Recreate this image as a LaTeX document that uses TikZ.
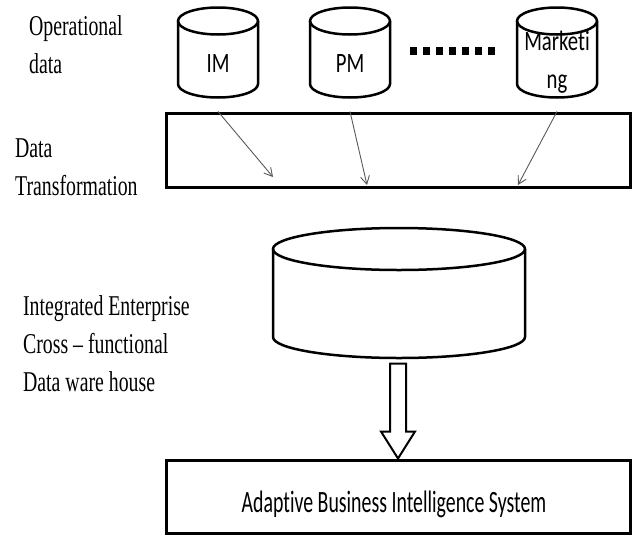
\documentclass[tikz,border=0pt]{standalone}
\usepackage{fontspec}
\setmainfont{Liberation Serif}
\newfontfamily\calfont[Ligatures=NoCommon]{Carlito}
\usetikzlibrary{arrows.meta}

\begin{document}
\begin{tikzpicture}[x=1pt,y=1pt,
    dbline/.style={line width=2.5pt},
    frame/.style={draw,line width=3pt,inner sep=0pt},
    feed/.style={-{Straight Barb[length=8pt,width=9pt]},line width=0.9pt,black!65},
    sidelabel/.style={align=left,anchor=base west,inner sep=0pt,xscale=0.69,transform shape,
        font=\fontsize{28.7}{38}\selectfont},
    dblabel/.style={align=center,anchor=base,inner sep=0pt,xscale=0.74,transform shape,
        font=\calfont\fontsize{28}{38}\selectfont}]
    \useasboundingbox (0,0) rectangle (632,-536);

    % source databases
    \foreach \cx in {218,350,557}
    {
        \draw[dbline] (\cx,-21) ellipse [x radius=40, y radius=13.5];
        \draw[dbline] (\cx-40,-21) -- (\cx-40,-84)
            arc [start angle=180, end angle=360, x radius=40, y radius=13.5] -- (\cx+40,-21);
    }
    \node[dblabel] (im) at (218,-72) {IM};
    \node[dblabel] (pm) at (350,-72) {PM};
    % base of a two-line node sits on its last line
    \node[dblabel] (mkt) at (557,-88) {Marketi\\ng};
    \foreach \i in {0,...,6}
        \fill (410+13*\i,-47) rectangle +(6.5,-8);

    % transformation layer
    \node[frame,minimum width=464,minimum height=74] (trans) at (398,-150) {};
    \coordinate (t1) at (273,-177);
    \coordinate (t2) at (367,-185);
    \coordinate (t3) at (518,-185);
    \draw[feed] (im |- trans.north) -- (t1);
    \draw[feed] (pm |- trans.north) -- (t2);
    \draw[feed] (mkt |- trans.north) -- (t3);

    % warehouse
    \draw[dbline] (399,-249) ellipse [x radius=126, y radius=21];
    \draw[dbline] (273,-249) -- (273,-337)
        arc [start angle=180, end angle=360, x radius=126, y radius=21] -- (525,-249);
    \coordinate (dwh) at (399,-358);

    % BI system
    \node[frame,minimum width=464,minimum height=73] (abis) at (398,-496.5) {};
    \node[inner sep=0pt,anchor=base,xscale=0.64,transform shape,
        font=\calfont\fontsize{31}{31}\selectfont] (abistxt) at (394,-512)
        {Adaptive Business Intelligence System};

    % block arrow down into the BI box
    \draw[line width=2pt,fill=white] (abis.north) -- ++(-17,27) -- ++(9,0) -- ++(0,68)
        -- ++(16,0) -- ++(0,-68) -- ++(9,0) -- cycle;

    % layer captions
    \node[sidelabel] (opdata) at (29,-73) {Operational\\data};
    \node[sidelabel] (dtrans) at (15,-195) {Data\\Transformation};
    \node[sidelabel] (iecf) at (23,-391) {Integrated Enterprise\\Cross -- functional\\Data ware house};
\end{tikzpicture}
\end{document}
